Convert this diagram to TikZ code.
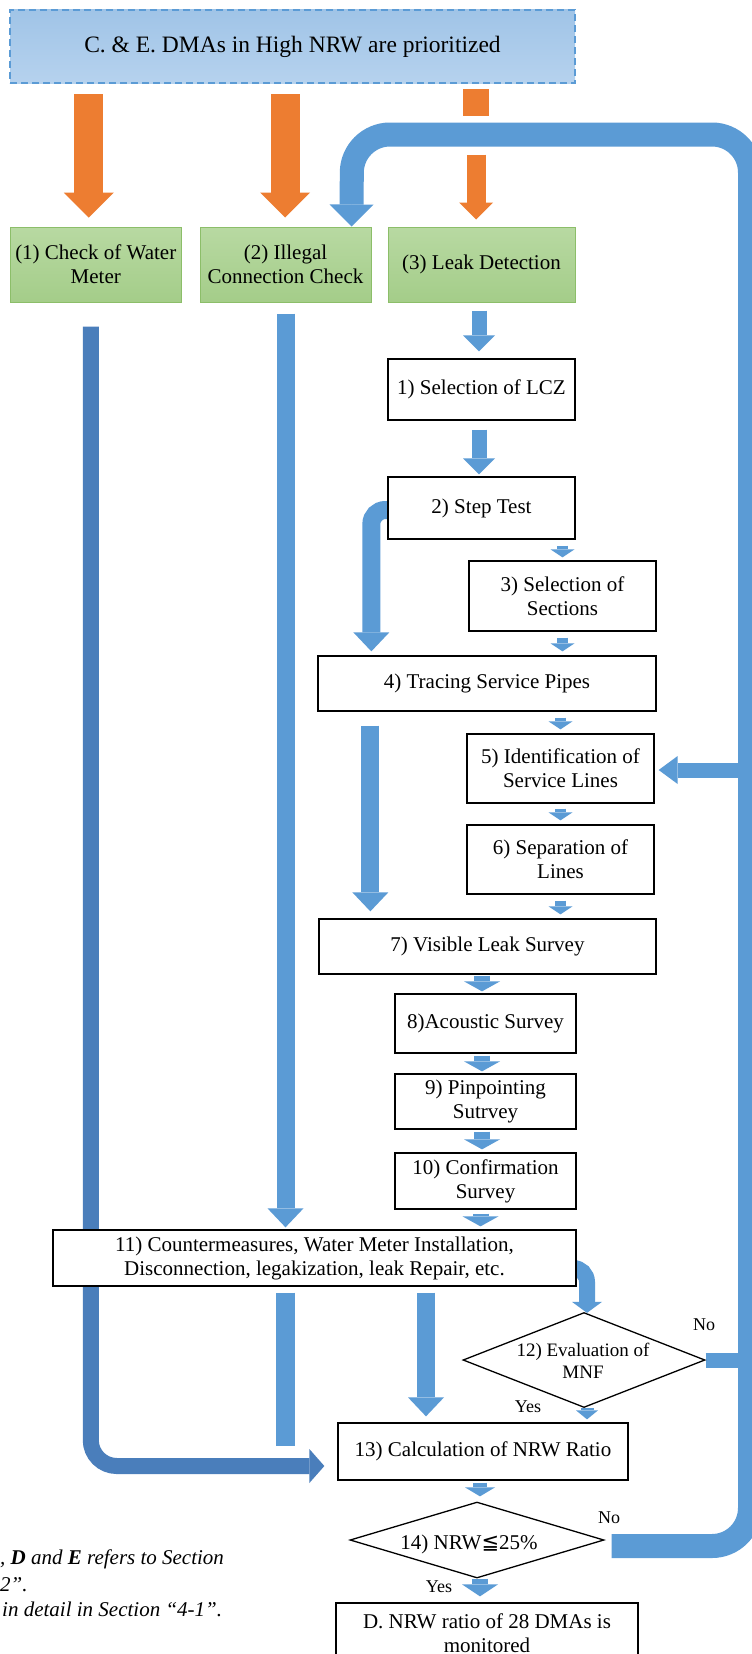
\documentclass[tikz,border=0pt]{standalone}
\usepackage{fontspec}
\setmainfont{Liberation Serif}
\newfontfamily\symf{DejaVu Sans}
\usetikzlibrary{arrows.meta,calc,shapes.geometric}
\definecolor{oran}{RGB}{237,125,49}
\definecolor{blu}{RGB}{91,155,213}
\definecolor{dblu}{RGB}{74,126,187}
\definecolor{grnA}{RGB}{184,217,162}
\definecolor{grnB}{RGB}{164,205,137}
\definecolor{grnD}{RGB}{140,190,105}
\definecolor{topA}{RGB}{160,196,231}
\definecolor{topB}{RGB}{182,210,238}
\newcommand\fsA{\fontsize{21}{24}\selectfont}
\newcommand\fsTop{\fontsize{23.5}{26}\selectfont}
\newcommand\fsLbl{\fontsize{18}{20}\selectfont}
\newcommand\fsDia{\fontsize{19}{22}\selectfont}
\newcommand\fsNote{\fontsize{21}{24}\selectfont\itshape}
\pgfdeclarelayer{bg}
\pgfsetlayers{bg,main}
\tikzset{
  box/.style={draw=black, line width=1.3pt, fill=white, inner sep=0pt, align=center, font=\fsA},
  gbox/.style={draw=grnD, line width=1pt, top color=grnA, bottom color=grnB, inner sep=0pt, align=center, font=\fsA},
  tbox/.style={draw=blu, dash pattern=on 7pt off 4pt, line width=2.5pt, top color=topA, bottom color=topB, inner sep=0pt, font=\fsTop},
  dia/.style={diamond, draw=black, line width=1.3pt, fill=white, inner sep=0pt},
  lbl/.style={inner sep=0pt, font=\fsLbl},
  oar/.style={draw=oran, line width=29pt, -{Triangle[width=50pt,length=25pt,line width=0pt]}},
  oarsmall/.style={draw=oran, line width=19pt, -{Triangle[width=34pt,length=17pt,line width=0pt]}},
  sar/.style={draw=blu, line width=11pt, -{Triangle[width=24pt,length=8pt,line width=0pt]}},
  mar/.style={draw=blu, line width=16pt, -{Triangle[width=36pt,length=10pt,line width=0pt]}},
  bar/.style={draw=blu, line width=15pt, -{Triangle[width=32pt,length=16pt,line width=0pt]}},
  lar/.style={draw=blu, line width=18pt, -{Triangle[width=36pt,length=19pt,line width=0pt]}},
  loopar/.style={draw=blu, line width=24pt, rounded corners=38pt, -{Triangle[width=44pt,length=22pt,line width=0pt]}},
}
\begin{document}
\begin{tikzpicture}[x=1pt,y=-1pt]
\useasboundingbox (0,0) rectangle (752,1654);
\begin{scope}
\clip (0,0) rectangle (752,1654);
% top box
\node[tbox, minimum width=565pt, minimum height=73pt] (top) at (292.5,46.5) {C. \& E. DMAs in High NRW are prioritized};
% green boxes
\node[gbox, minimum width=170.5pt, minimum height=75pt] (g1) at (95.75,264.5) {(1) Check of Water\\Meter};
\node[gbox, minimum width=171pt, minimum height=75pt] (g2) at (285.5,264.5) {(2) Illegal\\Connection Check};
\node[gbox, minimum width=187pt, minimum height=75pt] (g3) at (481.5,264.5) {(3) Leak Detection};
% process boxes
\node[box, minimum width=187pt, minimum height=61pt] (b1) at (481.5,389.5) {1) Selection of LCZ};
\node[box, minimum width=187pt, minimum height=62pt] (b2) at (481.5,508) {2) Step Test};
\node[box, minimum width=187pt, minimum height=70pt] (b3) at (562.5,596) {3) Selection of\\Sections};
\node[box, minimum width=338pt, minimum height=55pt] (b4) at (487,683.5) {4) Tracing Service Pipes};
\node[box, minimum width=187pt, minimum height=69pt] (b5) at (560.5,768.5) {5) Identification of\\Service Lines};
\node[box, minimum width=187pt, minimum height=69pt] (b6) at (560.5,859.5) {6) Separation of\\Lines};
\node[box, minimum width=337pt, minimum height=55pt] (b7) at (487.5,946.5) {7) Visible Leak Survey};
\node[box, minimum width=181pt, minimum height=59pt] (b8) at (485.5,1023.5) {8)Acoustic Survey};
\node[box, minimum width=181pt, minimum height=55pt] (b9) at (485.5,1101.5) {9) Pinpointing\\Sutrvey};
\node[box, minimum width=181pt, minimum height=56pt] (b10) at (485.5,1181) {10) Confirmation\\Survey};
\node[box, minimum width=523pt, minimum height=56pt] (b11) at (314.5,1258) {11) Countermeasures, Water Meter Installation,\\Disconnection, legakization, leak Repair, etc.};
\node[dia, minimum width=242pt, minimum height=95pt] (d12) at (584,1360) {};
\node[inner sep=0pt, align=center, font=\fsDia] (t12) at ($(d12.center)+(-1,1)$) {12) Evaluation of\\MNF};
\node[box, minimum width=290pt, minimum height=57pt] (b13) at (483,1451.5) {13) Calculation of NRW Ratio};
\node[dia, minimum width=254pt, minimum height=76pt] (d14) at (477,1540) {};
\node[inner sep=0pt, font=\fsA] (t14) at ($(d14.center)+(-8,4)$) {14) NRW{\symf ≦}25\%};
\node[box, minimum width=302pt, minimum height=60pt] (bD) at (487,1633) {D. NRW ratio of 28 DMAs is\\monitored};
% labels
\node[lbl] (no1) at (704,1325) {No};
\node[lbl] (yes1) at (528,1407) {Yes};
\node[lbl] (no2) at (609,1518) {No};
\node[lbl] (yes2) at (439,1587) {Yes};
% footnote (cut at the left edge)
\node[anchor=base west, inner sep=0pt, font=\fsNote] (fn1) at (0,1564) {, \textbf{D} and \textbf{E} refers to Section};
\node[anchor=base west, inner sep=0pt, font=\fsNote] (fn2) at (0,1591) {2”.};
\node[anchor=base west, inner sep=0pt, font=\fsNote] (fn3) at (2,1616) {in detail in Section “4-1”.};
\end{scope}
% helper coordinates
\coordinate (e11) at ($(b11.south -| g2)+(0,159)$);
\coordinate (rb) at (750,1546);
\coordinate (rt) at (750,134.5);
\coordinate (lt) at (352,134.5);
\coordinate (r12) at (746,1360);
\coordinate (r5) at (746,770);
\begin{pgfonlayer}{bg}
\fill[white] (0,0) rectangle (752,1654);
\clip (0,0) rectangle (752,1654);
% orange arrows
\draw[oar] ($(top.south -| g1.north)+(-7,10)$) -- ($(g1.north)+(-7,-9)$);
\draw[oar] ($(top.south -| g2.north)+(-0.5,10)$) -- ($(g2.north)+(-0.5,-9)$);
\draw[draw=oran, line width=26pt] ($(top.south -| g3.north)+(-5.5,5)$) -- ($(top.south -| g3.north)+(-5.5,32)$);
\draw[oarsmall] ($(g3.north)+(-5.5,-72)$) -- ($(g3.north)+(-5.5,-7)$);
% feedback loop
\draw[loopar] ($(d14.east)+(7,6)$) -- (rb) -- (rt) -- (lt) -- ($(g2.north east)+(-20,0)$);
\draw[draw=blu, line width=15pt] (d12.east) -- (r12);
\draw[draw=blu, line width=15pt, -{Triangle[width=28pt,length=19pt,line width=0pt]}] (r5) -- ($(b5.east)+(4,1.5)$);
% leak detection chain
\draw[bar] ($(g3.south)+(-2.5,8)$) -- ($(b1.north)+(-2.5,-7)$);
\draw[bar] ($(b1.south)+(-2.5,9)$) -- ($(b2.north)+(-2.5,-2)$);
\draw[sar] ($(b2.south -| b3.north)+(0,6)$) -- ($(b3.north)+(0,-3)$);
\draw[sar] ($(b3.south)+(0,6)$) -- ($(b4.north -| b3.north)+(0,-4)$);
\draw[lar, rounded corners=14pt] ($(b2.west)+(4,2)$) -| ($(b4.north west)+(54,-4)$);
\draw[sar] ($(b4.south -| b5.north)+(0,6)$) -- ($(b5.north)+(0,-4)$);
\draw[sar] ($(b5.south)+(0,5)$) -- ($(b6.north)+(0,-4)$);
\draw[sar] ($(b6.south)+(0,6)$) -- ($(b7.north -| b6.north)+(0,-4)$);
\draw[lar] ($(b4.south west)+(53,14)$) -- ($(b7.north west)+(52,-7)$);
\draw[mar] ($(b7.south -| b8.north)+(-3.5,1)$) -- ($(b8.north)+(-3.5,-2)$);
\draw[mar] ($(b8.south)+(-3.5,2)$) -- ($(b9.north)+(-3.5,-2)$);
\draw[mar] ($(b9.south)+(-3.5,2)$) -- ($(b10.north)+(-3.5,-3)$);
\draw[mar] ($(b10.south)+(-5,4)$) -- ($(b11.north -| b10.south)+(-5,-3)$);
% side branches
\draw[draw=dblu, line width=16pt, rounded corners=26pt, -{Triangle[width=34pt,length=15pt,line width=0pt]}] ($(g1.south)+(-5,24)$) |- ($(b13.west)+(-13,14.5)$);
\draw[lar] ($(g2.south)+(0,11)$) -- ($(g2.south |- b11.north)+(0,-2)$);
\draw[draw=blu, line width=19pt] ($(b11.south -| g2.south)+(0,6)$) -- (e11);
\draw[lar] ($(b11.south)+(111.5,6)$) -- ($(b13.north)+(-57,-6)$);
\draw[draw=blu, line width=16pt, rounded corners=14pt, -{Triangle[width=30pt,length=11pt,line width=0pt]}] ($(b11.east)+(-6,10)$) -| ($(d12.north)+(3,1)$);
\draw[draw=blu, line width=13pt, -{Triangle[width=22pt,length=9pt,line width=0pt]}] ($(d12.south)+(3,0)$) -- ($(b13.north -| d12.south)+(3,-3)$);
\draw[draw=blu, line width=14pt, -{Triangle[width=30pt,length=9pt,line width=0pt]}] ($(b13.south)+(-3,2)$) -- ($(d14.north)+(3,-5)$);
\draw[draw=blu, line width=16pt, -{Triangle[width=36pt,length=12pt,line width=0pt]}] ($(d14.south)+(3,0)$) -- ($(bD.north)+(-7,-6)$);
\end{pgfonlayer}
\end{tikzpicture}
\end{document}
